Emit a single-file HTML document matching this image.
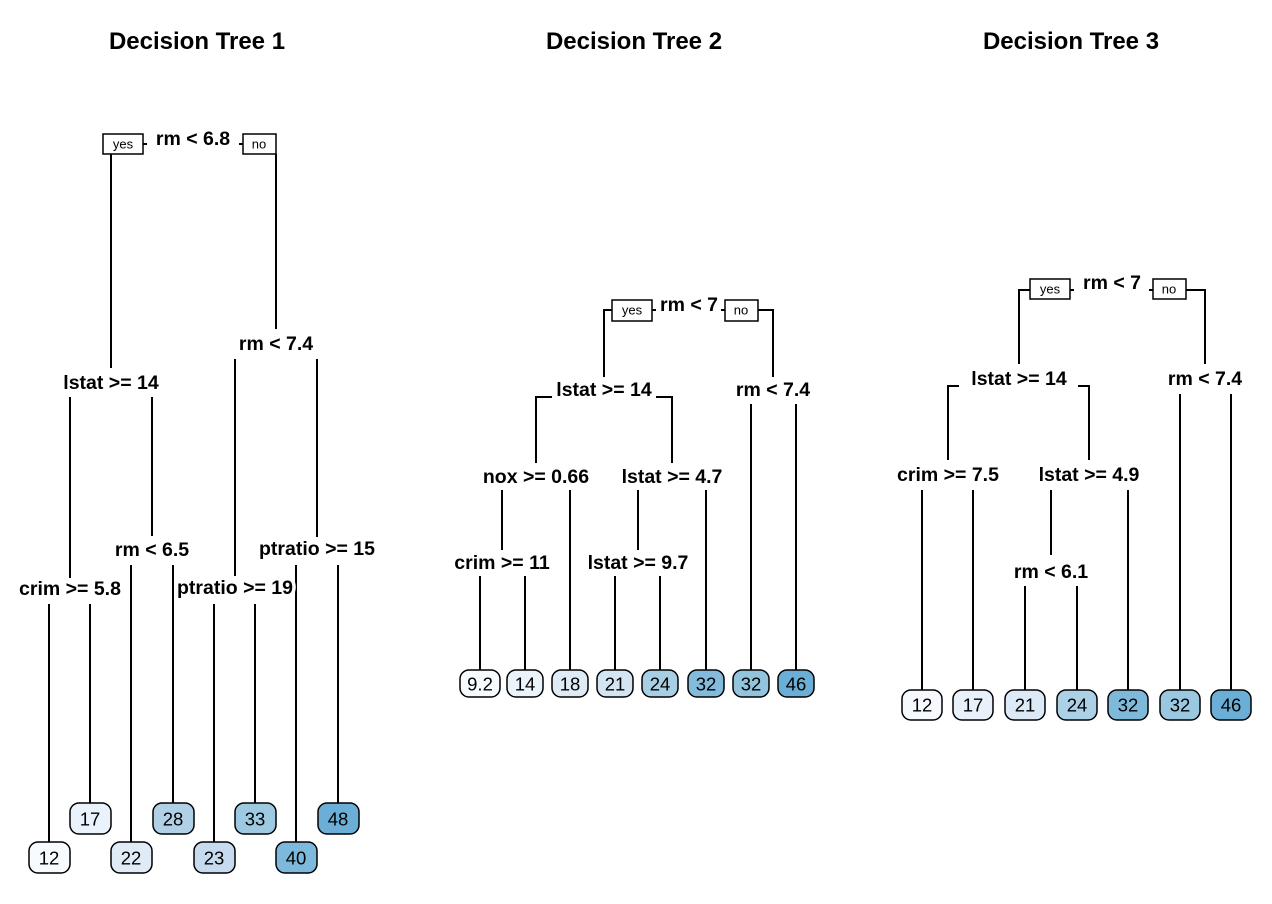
<!DOCTYPE html>
<html><head><meta charset="utf-8"><style>
html,body{margin:0;padding:0;background:#fff}
svg{display:block}
.t{font:bold 24px "Liberation Sans",sans-serif;text-anchor:middle}
.n{font:bold 19.5px "Liberation Sans",sans-serif;text-anchor:middle;dominant-baseline:central;stroke:#fff;stroke-width:7;paint-order:stroke;fill:#000}
.l{font:18.5px "Liberation Sans",sans-serif;text-anchor:middle;dominant-baseline:central}
.y{font:13px "Liberation Sans",sans-serif;text-anchor:middle;dominant-baseline:central}
line,polyline{stroke:#000;stroke-width:2;fill:none}
rect.b{stroke:#000;stroke-width:1.5}
</style></head><body>
<svg width="1272" height="904" viewBox="0 0 1272 904">
<text class="t" x="197" y="49">Decision Tree 1</text>
<text class="t" x="634" y="49">Decision Tree 2</text>
<text class="t" x="1071" y="49">Decision Tree 3</text>

<!-- Tree 1 lines -->
<line x1="111" y1="154" x2="111" y2="368"/>
<line x1="276" y1="154" x2="276" y2="329"/>
<line x1="70" y1="397" x2="70" y2="578"/>
<line x1="152" y1="397" x2="152" y2="536"/>
<line x1="235" y1="359" x2="235" y2="576"/>
<line x1="317" y1="359" x2="317" y2="537"/>
<line x1="131" y1="565" x2="131" y2="842"/>
<line x1="173" y1="565" x2="173" y2="803"/>
<line x1="296" y1="565" x2="296" y2="842"/>
<line x1="338" y1="565" x2="338" y2="803"/>
<line x1="49" y1="604" x2="49" y2="842"/>
<line x1="90" y1="604" x2="90" y2="803"/>
<line x1="214" y1="604" x2="214" y2="842"/>
<line x1="255" y1="604" x2="255" y2="803"/>
<line x1="143" y1="144" x2="147" y2="144" stroke-width="1"/>
<line x1="239" y1="144" x2="243" y2="144" stroke-width="1"/>
<rect class="b" x="103" y="134" width="40" height="20" fill="#fff"/><text class="y" x="123" y="144">yes</text>
<rect class="b" x="243" y="134" width="33" height="20" fill="#fff"/><text class="y" x="259" y="144">no</text>
<text class="n" x="193" y="139">rm &lt; 6.8</text>
<text class="n" x="276" y="344">rm &lt; 7.4</text>
<text class="n" x="111" y="383">lstat &gt;= 14</text>
<text class="n" x="152" y="550">rm &lt; 6.5</text>
<text class="n" x="317" y="549">ptratio &gt;= 15</text>
<text class="n" x="70" y="589">crim &gt;= 5.8</text>
<text class="n" x="235" y="588">ptratio &gt;= 19</text>
<g>
<rect class="b" x="29" y="842" width="41" height="31" rx="9" fill="#f7fbff"/><text class="l" x="49" y="858">12</text>
<rect class="b" x="111" y="842" width="41" height="31" rx="9" fill="#dfebf7"/><text class="l" x="131" y="858">22</text>
<rect class="b" x="194" y="842" width="41" height="31" rx="9" fill="#c6dbef"/><text class="l" x="214" y="858">23</text>
<rect class="b" x="276" y="842" width="41" height="31" rx="9" fill="#7db9dc"/><text class="l" x="296" y="858">40</text>
<rect class="b" x="70" y="803" width="41" height="31" rx="9" fill="#eaf3fc"/><text class="l" x="90" y="819">17</text>
<rect class="b" x="153" y="803" width="41" height="31" rx="9" fill="#b0d0e6"/><text class="l" x="173" y="819">28</text>
<rect class="b" x="235" y="803" width="41" height="31" rx="9" fill="#9ecae1"/><text class="l" x="255" y="819">33</text>
<rect class="b" x="318" y="803" width="41" height="31" rx="9" fill="#6baed6"/><text class="l" x="338" y="819">48</text>
</g>

<!-- Tree 2 -->
<polyline points="612,310 604,310 604,377"/>
<polyline points="758,310 773,310 773,377"/>
<polyline points="552,397 536,397 536,463"/>
<polyline points="656,397 672,397 672,463"/>
<line x1="751" y1="404" x2="751" y2="671"/>
<line x1="796" y1="404" x2="796" y2="671"/>
<line x1="502" y1="490" x2="502" y2="550"/>
<line x1="570" y1="490" x2="570" y2="671"/>
<line x1="638" y1="490" x2="638" y2="550"/>
<line x1="706" y1="490" x2="706" y2="671"/>
<line x1="480" y1="576" x2="480" y2="671"/>
<line x1="525" y1="576" x2="525" y2="671"/>
<line x1="615" y1="576" x2="615" y2="671"/>
<line x1="660" y1="576" x2="660" y2="671"/>
<line x1="652" y1="310" x2="656" y2="310" stroke-width="1"/>
<line x1="721" y1="310" x2="725" y2="310" stroke-width="1"/>
<rect class="b" x="612" y="300" width="40" height="21" fill="#fff"/><text class="y" x="632" y="310">yes</text>
<rect class="b" x="725" y="300" width="33" height="21" fill="#fff"/><text class="y" x="741" y="310">no</text>
<text class="n" x="689" y="305">rm &lt; 7</text>
<text class="n" x="604" y="390">lstat &gt;= 14</text>
<text class="n" x="773" y="390">rm &lt; 7.4</text>
<text class="n" x="536" y="477">nox &gt;= 0.66</text>
<text class="n" x="672" y="477">lstat &gt;= 4.7</text>
<text class="n" x="502" y="563">crim &gt;= 11</text>
<text class="n" x="638" y="563">lstat &gt;= 9.7</text>
<rect class="b" x="460" y="670" width="40" height="27" rx="9" fill="#f7fbff"/><text class="l" x="480" y="684">9.2</text>
<rect class="b" x="507" y="670" width="36" height="27" rx="9" fill="#ebf3fb"/><text class="l" x="525" y="684">14</text>
<rect class="b" x="552" y="670" width="36" height="27" rx="9" fill="#deebf7"/><text class="l" x="570" y="684">18</text>
<rect class="b" x="597" y="670" width="36" height="27" rx="9" fill="#d3e4f3"/><text class="l" x="615" y="684">21</text>
<rect class="b" x="642" y="670" width="36" height="27" rx="9" fill="#a8cee4"/><text class="l" x="660" y="684">24</text>
<rect class="b" x="688" y="670" width="36" height="27" rx="9" fill="#82bbdb"/><text class="l" x="706" y="684">32</text>
<rect class="b" x="733" y="670" width="36" height="27" rx="9" fill="#92c4de"/><text class="l" x="751" y="684">32</text>
<rect class="b" x="778" y="670" width="36" height="27" rx="9" fill="#6baed6"/><text class="l" x="796" y="684">46</text>

<!-- Tree 3 -->
<polyline points="1030,290 1019,290 1019,364"/>
<polyline points="1186,290 1205,290 1205,364"/>
<polyline points="959,386 948,386 948,460"/>
<polyline points="1078,386 1089,386 1089,460"/>
<line x1="1180" y1="394" x2="1180" y2="690"/>
<line x1="1231" y1="394" x2="1231" y2="690"/>
<line x1="922" y1="490" x2="922" y2="690"/>
<line x1="973" y1="490" x2="973" y2="690"/>
<line x1="1051" y1="490" x2="1051" y2="555"/>
<line x1="1128" y1="490" x2="1128" y2="690"/>
<line x1="1025" y1="586" x2="1025" y2="690"/>
<line x1="1077" y1="586" x2="1077" y2="690"/>
<line x1="1070" y1="290" x2="1074" y2="290" stroke-width="1"/>
<line x1="1149" y1="290" x2="1153" y2="290" stroke-width="1"/>
<rect class="b" x="1030" y="279" width="40" height="20" fill="#fff"/><text class="y" x="1050" y="289">yes</text>
<rect class="b" x="1153" y="279" width="33" height="20" fill="#fff"/><text class="y" x="1169" y="289">no</text>
<text class="n" x="1112" y="283">rm &lt; 7</text>
<text class="n" x="1019" y="379">lstat &gt;= 14</text>
<text class="n" x="1205" y="379">rm &lt; 7.4</text>
<text class="n" x="948" y="475">crim &gt;= 7.5</text>
<text class="n" x="1089" y="475">lstat &gt;= 4.9</text>
<text class="n" x="1051" y="572">rm &lt; 6.1</text>
<rect class="b" x="902" y="690" width="40" height="30" rx="9" fill="#f5f9fe"/><text class="l" x="922" y="705">12</text>
<rect class="b" x="953" y="690" width="40" height="30" rx="9" fill="#e8f1fa"/><text class="l" x="973" y="705">17</text>
<rect class="b" x="1005" y="690" width="40" height="30" rx="9" fill="#dce9f6"/><text class="l" x="1025" y="705">21</text>
<rect class="b" x="1057" y="690" width="40" height="30" rx="9" fill="#acd0e6"/><text class="l" x="1077" y="705">24</text>
<rect class="b" x="1108" y="690" width="40" height="30" rx="9" fill="#7fb9da"/><text class="l" x="1128" y="705">32</text>
<rect class="b" x="1160" y="690" width="40" height="30" rx="9" fill="#9ac8e0"/><text class="l" x="1180" y="705">32</text>
<rect class="b" x="1211" y="690" width="40" height="30" rx="9" fill="#6baed6"/><text class="l" x="1231" y="705">46</text>
</svg>
</body></html>
